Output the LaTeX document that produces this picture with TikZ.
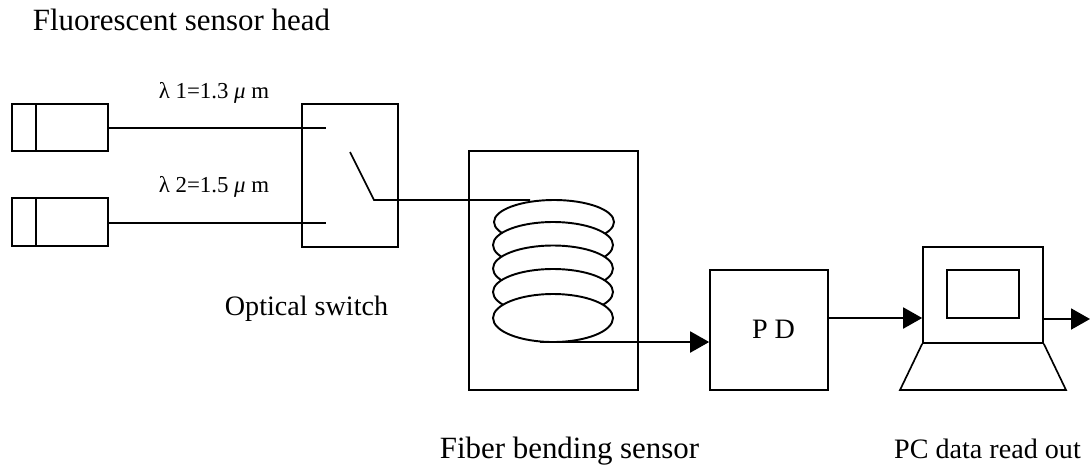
\documentclass[tikz,border=0pt]{standalone}
\usepackage{fontspec}
\setmainfont{Liberation Serif}
\usetikzlibrary{arrows.meta}
\tikzset{
  unit/.style={draw=black, line width=0.95pt, inner sep=0pt, minimum width=#1},
  fibre/.style={draw=black, line width=0.95pt},
  signal/.style={draw=black, line width=1.1pt, -{Triangle[length=0.38cm,width=0.42cm]}},
  coil/.style={draw=black, fill=white, line width=1.1pt},
  bigtext/.style={anchor=base, inner sep=0pt, font=\fontsize{17.6pt}{20pt}\selectfont},
  midtext/.style={anchor=base, inner sep=0pt, font=\fontsize{16pt}{19pt}\selectfont},
  smalltext/.style={anchor=base, inner sep=0pt, font=\fontsize{13pt}{15pt}\selectfont}
}
\begin{document}
\begin{tikzpicture}[x=0.02cm, y=-0.02cm]
  \useasboundingbox (0,0) rectangle (1091,468);
  \node[unit=1.92cm, minimum height=0.94cm] (laserA) at (60,127.5) {};
  \node[unit=1.92cm, minimum height=0.96cm] (laserB) at (60,222) {};
  \node[unit=1.92cm, minimum height=2.86cm] (switch) at (350,175.5) {};
  \node[unit=3.38cm, minimum height=4.78cm] (sensor) at (553.5,270.5) {};
  \node[unit=2.36cm, minimum height=2.40cm] (pd) at (769,330) {};
  \node[unit=2.40cm, minimum height=1.92cm] (screen) at (983,295) {};
  \node[unit=1.44cm, minimum height=0.96cm] (display) at (983,294) {};
  \coordinate (capA) at (36,104);
  \coordinate (capAend) at (36,151);
  \coordinate (capB) at (36,198);
  \coordinate (capBend) at (36,246);
  \coordinate (portA) at (326,128);
  \coordinate (portB) at (326,223);
  \coordinate (armTop) at (350,152);
  \coordinate (armEnd) at (374,200);
  \coordinate (coilIn) at (530,200);
  \coordinate (coilOut) at (540,342);
  \coordinate (feedPD) at (pd.west |- coilOut);
  \coordinate (pdOut) at (pd.east |- 0,318);
  \coordinate (pcIn) at (screen.west |- 0,318);
  \coordinate (pcOut) at (screen.east |- 0,319);
  \coordinate (readOut) at (1090,319);
  \coordinate (baseA) at (900,390);
  \coordinate (baseB) at (1066,390);
  \draw[fibre] (capA) -- (capAend);
  \draw[fibre] (capB) -- (capBend);
  \draw[fibre, line width=0.7pt] (laserA.east |- portA) -- (portA);
  \draw[fibre, line width=0.7pt] (laserB.east |- portB) -- (portB);
  \draw[fibre] (armTop) -- (armEnd) -- (coilIn);
  \draw[coil] (554,222) ellipse (60 and 22);
  \draw[coil] (553,245) ellipse (60 and 23);
  \draw[coil] (553,268.5) ellipse (60 and 23);
  \draw[coil] (553,292) ellipse (60 and 23);
  \draw[coil] (553,318) ellipse (60 and 24);
  \draw[signal] (coilOut) -- (feedPD);
  \draw[signal] (pdOut) -- (pcIn);
  \draw[signal] (pcOut) -- (readOut);
  \draw[fibre] (screen.south west) -- (baseA) -- (baseB) -- (screen.south east);
  \node[bigtext] (headText) at (181.5,30) {Fluorescent sensor head};
  \node[smalltext] (lambdaA) at (214,98) {λ 1=1.3 \textit{μ} m};
  \node[smalltext] (lambdaB) at (214,192) {λ 2=1.5 \textit{μ} m};
  \node[midtext] (switchText) at (306.5,315) {Optical switch};
  \node[midtext] (pdText) at (773.5,338) {P D};
  \node[bigtext] (sensorText) at (569.5,458) {Fiber bending sensor};
  \node[midtext] (pcText) at (987.5,458) {PC data read out};
\end{tikzpicture}
\end{document}
